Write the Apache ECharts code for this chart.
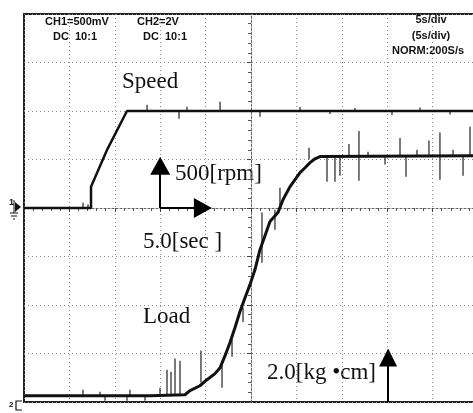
<!DOCTYPE html>
<html>
<head>
<meta charset="utf-8">
<script src="https://cdn.jsdelivr.net/npm/echarts@6/dist/echarts.min.js"></script>
<style>
html, body { margin: 0; padding: 0; background: #fff; }
#main { width: 473px; height: 413px; }
</style>
</head>
<body>
<div id="main"></div>
<script>
// time axis: 5 s/div, 10 div
var timeTicks = [0, 5, 10, 15, 20, 25, 30, 35, 40, 45, 50];

// CH1 speed [rpm] (500 rpm/div, zero at centre)
var speedTime = [0, 7.38, 7.38, 9.2, 11.34, 50];
var speedVal  = [0, 0, 220, 610, 1000, 1000];
// small glitches on the speed trace: [t, from, to]
var speedSpikes = [
  [6.50, 0, 55], [7.05, 0, 35], [13.55, 1000, 1065], [17.07, 1000, 921],
  [17.95, 1000, 1044], [21.59, 1000, 1096], [25.99, 1000, 941],
  [30.4, 1000, 1040], [33.7, 1000, 970], [36.45, 1000, 1030],
  [40.53, 1000, 960], [43.61, 1000, 1035], [46.92, 1000, 965]
];

// CH2 load [kg.cm] (2 kg.cm/div, zero at bottom)
var loadTime = [0, 13.88, 17.73, 18.28, 19.38, 20.15, 21.04, 21.59, 22.14, 22.69,
  23.24, 23.79, 24.34, 24.89, 25.44, 25.99, 26.54, 27.09, 27.97, 28.52, 29.30,
  29.85, 30.40, 30.95, 31.50, 32.05, 32.60, 50];
var loadVal  = [0.26, 0.26, 0.30, 0.47, 0.67, 0.92, 1.17, 1.41, 1.91, 2.45,
  3.07, 3.73, 4.30, 4.84, 5.46, 6.28, 6.86, 7.44, 7.81, 8.34, 8.88,
  9.17, 9.46, 9.66, 9.87, 10.03, 10.12, 10.16];
var loadSpikes = [
  [6.50, 0.26, 0.51], [8.37, 0.26, 0.42], [8.92, 0.26, 0.05], [11.34, 0.26, 0.05],
  [11.67, 0.26, 0.51], [13.33, 0.26, 0.05], [14.98, 0.26, 0.59],
  [15.75, 0.30, 1.33], [16.19, 0.30, 1.25], [16.63, 0.30, 1.79], [17.18, 0.30, 1.70],
  [19.49, 0.80, 2.12], [21.81, 1.54, 0.59], [22.91, 2.57, 1.87], [24.12, 3.90, 3.30],
  [26.21, 7.81, 5.74], [27.64, 7.93, 7.10], [28.19, 8.05, 8.84],
  [31.39, 10.0, 10.48], [33.37, 10.15, 9.08], [34.25, 10.15, 9.08], [34.80, 10.15, 9.33],
  [35.79, 10.15, 10.64], [36.89, 9.12, 11.18], [37.89, 10.15, 10.32], [39.76, 10.15, 9.79],
  [41.41, 10.15, 10.89], [42.07, 10.15, 9.29], [43.28, 10.15, 10.40], [44.60, 10.15, 10.78],
  [45.81, 9.17, 11.11], [47.25, 10.15, 10.40], [48.35, 10.15, 9.33], [49.12, 10.15, 11.35]
];

// scale markers
var speedArrow = [[15, 0], [15, 436]];
var timeArrow  = [[15, 0], [19.7, 0]];
var loadArrow  = [[40.1, 0], [40.1, 1.83]];

var serif = '"Liberation Serif", "DejaVu Serif", serif';
var sans = '"Liberation Sans", Arial, sans-serif';

function zip(a, b) {
  return a.map(function (v, i) { return [v, b[i]]; });
}

function spikeSeries(data, yIndex) {
  return {
    type: 'custom',
    yAxisIndex: yIndex,
    silent: true,
    data: data,
    encode: { x: 0, y: [1, 2] },
    renderItem: function (params, api) {
      var p1 = api.coord([api.value(0), api.value(1)]);
      var p2 = api.coord([api.value(0), api.value(2)]);
      return {
        type: 'line',
        shape: { x1: p1[0], y1: p1[1], x2: p2[0], y2: p2[1] },
        style: { stroke: '#222', lineWidth: 1.2 }
      };
    }
  };
}

function arrowLine(pts) {
  return [{ coord: pts[0] }, { coord: pts[1] }];
}

var chart = echarts.init(document.getElementById('main'));
chart.setOption({
  animation: false,
  backgroundColor: '#fff',
  grid: {
    left: 24, top: 14, width: 454, height: 388,
    show: true, borderColor: '#222', borderWidth: 2,
    outerBoundsMode: 'none'
  },
  xAxis: {
    type: 'value',
    min: timeTicks[0], max: timeTicks[timeTicks.length - 1], interval: 5,
    axisLine: { show: true, onZero: true, onZeroAxisIndex: 0,
      lineStyle: { color: '#666', width: 1, type: [2, 2] } },
    axisTick: { show: true, length: 4, lineStyle: { color: '#444' } },
    minorTick: { show: true, splitNumber: 5, length: 3, lineStyle: { color: '#555' } },
    axisLabel: { show: false },
    splitLine: { show: true, lineStyle: { color: '#888', width: 1, type: [1, 3] } }
  },
  yAxis: [{
    type: 'value', min: -2000, max: 2000, interval: 500,
    axisLine: { show: false }, axisTick: { show: false }, axisLabel: { show: false },
    splitLine: { show: true, lineStyle: { color: '#888', width: 1, type: [1, 3] } }
  }, {
    type: 'value', min: 0, max: 16, interval: 2, position: 'right',
    axisLine: { show: false }, axisTick: { show: false }, axisLabel: { show: false },
    splitLine: { show: false }
  }, {
    type: 'value', min: -4, max: 4, interval: 1, position: 'left', offset: -227,
    axisLine: { show: true, lineStyle: { color: '#666', width: 1, type: [2, 2] } },
    axisTick: { show: true, length: 4, lineStyle: { color: '#444' } },
    minorTick: { show: true, splitNumber: 5, length: 3, lineStyle: { color: '#555' } },
    axisLabel: { show: false },
    splitLine: { show: false }
  }],
  series: [{
    name: 'Speed',
    type: 'line',
    yAxisIndex: 0,
    showSymbol: false,
    data: zip(speedTime, speedVal),
    lineStyle: { color: '#111', width: 2.5 },
    markLine: {
      silent: true,
      symbol: ['none', 'triangle'],
      symbolSize: [20, 18],
      label: { show: false },
      lineStyle: { color: '#000', width: 2, type: 'solid' },
      data: [arrowLine(speedArrow), arrowLine(timeArrow)]
    }
  }, {
    name: 'Load',
    type: 'line',
    yAxisIndex: 1,
    showSymbol: false,
    data: zip(loadTime, loadVal),
    lineStyle: { color: '#111', width: 3 },
    markLine: {
      silent: true,
      symbol: ['none', 'triangle'],
      symbolSize: [18, 18],
      label: { show: false },
      lineStyle: { color: '#000', width: 2, type: 'solid' },
      data: [arrowLine(loadArrow)]
    }
  },
  spikeSeries(speedSpikes, 0),
  spikeSeries(loadSpikes, 1)
  ],
  graphic: [
    { type: 'text', left: 45, top: 16, style: { text: 'CH1=500mV', font: 'bold 11px ' + sans, fill: '#111' } },
    { type: 'text', left: 53, top: 31, style: { text: 'DC  10:1', font: 'bold 11px ' + sans, fill: '#111' } },
    { type: 'text', left: 137, top: 16, style: { text: 'CH2=2V', font: 'bold 11px ' + sans, fill: '#111' } },
    { type: 'text', left: 143, top: 31, style: { text: 'DC  10:1', font: 'bold 11px ' + sans, fill: '#111' } },
    { type: 'text', x: 431, y: 20, style: { text: '5s/div', font: 'bold 11px ' + sans, fill: '#111', align: 'center', verticalAlign: 'middle' } },
    { type: 'text', x: 431, y: 36, style: { text: '(5s/div)', font: 'bold 11px ' + sans, fill: '#111', align: 'center', verticalAlign: 'middle' } },
    { type: 'text', x: 428, y: 51, style: { text: 'NORM:200S/s', font: 'bold 11px ' + sans, fill: '#111', align: 'center', verticalAlign: 'middle' } },
    { type: 'text', x: 122, y: 82, style: { text: 'Speed', font: '23px ' + serif, fill: '#111', verticalAlign: 'middle' } },
    { type: 'text', x: 175, y: 174, style: { text: '500[rpm]', font: '23px ' + serif, fill: '#111', verticalAlign: 'middle' } },
    { type: 'text', x: 143, y: 242, style: { text: '5.0[sec ]', font: '23px ' + serif, fill: '#111', verticalAlign: 'middle' } },
    { type: 'text', x: 143, y: 317, style: { text: 'Load', font: '23px ' + serif, fill: '#111', verticalAlign: 'middle' } },
    { type: 'text', x: 267, y: 373, style: { text: '2.0[kg \u2022cm]', font: '23px ' + serif, fill: '#111', verticalAlign: 'middle' } },
    // channel 1 ground marker
    { type: 'text', x: 9, y: 203, style: { text: '1', font: 'bold 9px ' + sans, fill: '#111', verticalAlign: 'middle' } },
    { type: 'polygon', shape: { points: [[15, 202], [21, 207], [15, 212]] }, style: { fill: '#111' } },
    { type: 'polyline', shape: { points: [[14, 200], [14, 213]] }, style: { stroke: '#111', lineWidth: 1 } },
    { type: 'polyline', shape: { points: [[10, 213], [18, 213]] }, style: { stroke: '#111', lineWidth: 1 } },
    { type: 'polyline', shape: { points: [[11, 216], [17, 216]] }, style: { stroke: '#111', lineWidth: 1 } },
    { type: 'polyline', shape: { points: [[13, 219], [15, 219]] }, style: { stroke: '#111', lineWidth: 1 } },
    // channel 2 marker
    { type: 'text', x: 9, y: 405, style: { text: '2', font: 'bold 8px ' + sans, fill: '#111', verticalAlign: 'middle' } },
    { type: 'polyline', shape: { points: [[22, 401], [16, 401], [16, 410], [22, 410]] }, style: { stroke: '#111', lineWidth: 1.2, fill: null } }
  ]
});
</script>
</body>
</html>
